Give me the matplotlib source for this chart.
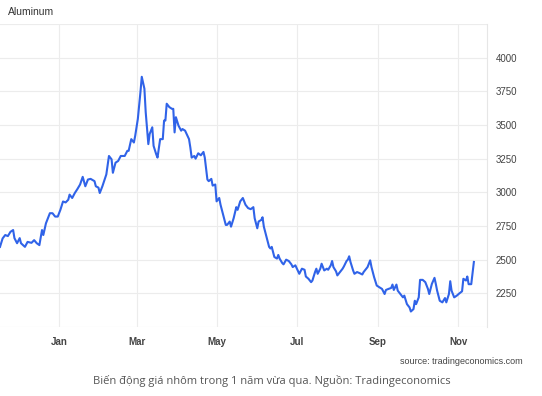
import pandas as pd
import matplotlib
matplotlib.use("Agg")
import matplotlib.pyplot as plt

# days counted from 1 Jan 2022, aluminium price (USD/t)
days = [-45, -43, -41, -39, -37, -35, -34, -32, -30, -29, -26, -24, -21, -19, -17, -15,
        -13, -12, -10, -7, -5, -3, -1, 1, 3, 5, 7, 8, 10, 12, 14, 16, 18, 20, 22, 24,
        27, 28, 30, 31, 33, 36, 38, 40, 41, 43, 45, 47, 50, 52, 53, 55, 57, 58, 60, 62,
        63, 65, 66, 68, 69, 71, 72, 74, 75, 77, 79, 80, 81, 82, 84, 86, 87, 88, 89, 91,
        93, 94, 96, 99, 100, 101, 103, 104, 106, 108, 110, 111, 113, 114, 116, 117, 119,
        120, 122, 123, 125, 127, 128, 130, 131, 133, 135, 136, 138, 140, 142, 144, 146,
        148, 149, 151, 152, 154, 155, 156, 158, 160, 161, 162, 164, 166, 167, 168, 170,
        171, 173, 175, 177, 178, 180, 182, 183, 185, 187, 188, 190, 192, 193, 195, 196,
        197, 199, 200, 202, 204, 205, 207, 208, 209, 211, 212, 214, 216, 217, 219, 220,
        221, 222, 224, 225, 227, 229, 231, 232, 234, 235, 237, 238, 240, 242, 244, 246,
        248, 249, 251, 253, 254, 255, 257, 258, 260, 262, 263, 265, 267, 268, 270, 271,
        272, 274, 275, 277, 279, 281, 282, 284, 286, 287, 288, 290, 292, 294, 295, 297,
        298, 299, 301, 303, 305, 307, 308, 310, 311, 312, 314, 316]
price = [2595, 2658, 2683, 2675, 2707, 2720, 2660, 2622, 2660, 2622, 2595, 2632, 2625, 2645, 2622, 2608,
         2720, 2683, 2770, 2845, 2845, 2820, 2820, 2870, 2932, 2925, 2945, 2983, 2958, 2995, 3025, 3058, 3115, 3045, 3095, 3100,
         3083, 3045, 3035, 2995, 3045, 3133, 3270, 3245, 3145, 3220, 3233, 3270, 3270, 3308, 3308, 3395, 3370, 3420, 3545, 3745,
         3858, 3770, 3595, 3358, 3433, 3483, 3345, 3283, 3258, 3395, 3395, 3533, 3533, 3658, 3633, 3620, 3620, 3445, 3558, 3495,
         3458, 3470, 3458, 3395, 3333, 3258, 3270, 3250, 3290, 3275, 3300, 3258, 3095, 3083, 3100, 3050, 3058,
         2933, 2958, 2908, 2833, 2758, 2758, 2783, 2745, 2808, 2890, 2870, 2933, 2958, 2908, 2883, 2875,
         2890, 2808, 2733, 2783, 2795, 2815, 2745, 2670, 2595, 2583, 2595, 2520, 2508, 2535, 2508, 2475,
         2465, 2500, 2490, 2465, 2445, 2458, 2415, 2395, 2433, 2425, 2375, 2358, 2333, 2345, 2408, 2433,
         2395, 2433, 2470, 2420, 2433, 2425, 2458, 2490, 2445, 2413, 2383, 2408, 2433, 2450, 2490, 2500,
         2525, 2483, 2420, 2395, 2408, 2400, 2390, 2408, 2433, 2445, 2495, 2445, 2370, 2308, 2295, 2283,
         2245, 2275, 2283, 2290, 2315, 2275, 2315, 2270, 2245, 2220, 2233, 2170, 2145, 2115, 2133, 2195,
         2170, 2220, 2350, 2350, 2333, 2283, 2245, 2320, 2365, 2320, 2270, 2195, 2183, 2215, 2183, 2245,
         2340, 2270, 2220, 2233, 2250, 2265, 2358, 2345, 2375, 2318, 2318, 2483]

y_ticks = [2000, 2250, 2500, 2750, 3000, 3250, 3500, 3750, 4000, 4250]
y_labels = ["", "2250", "2500", "2750", "3000", "3250", "3500", "3750", "4000", ""]
month_ticks = ["2022-01-01", "2022-03-01", "2022-05-01", "2022-07-01", "2022-09-01", "2022-11-01"]
month_labels = ["Jan", "Mar", "May", "Jul", "Sep", "Nov"]

dates = pd.Timestamp("2022-01-01") + pd.to_timedelta(days, unit="D")

plt.rcParams['font.family'] = ['Liberation Sans', 'DejaVu Sans']

fig = plt.figure(figsize=(5.42, 3.96), dpi=100)
ax = fig.add_axes([0, 1 - 327 / 396, 487 / 542, (327 - 24) / 396])

ax.plot(dates, price, color='#3063e8', lw=1.5, solid_joinstyle='round')

ax.set_xlim(pd.Timestamp("2021-11-17"), pd.Timestamp("2022-11-23"))
ax.set_ylim(2000, 4250)
ax.set_yticks(y_ticks)
ax.set_yticklabels(y_labels)
ax.yaxis.tick_right()
ax.set_xticks(pd.to_datetime(month_ticks))
ax.set_xticklabels(month_labels, fontweight='bold')
ax.tick_params(axis='both', length=0, labelsize=7, colors='#444444')
ax.tick_params(axis='y', pad=6)
ax.tick_params(axis='x', pad=7)
ax.grid(True, color='#ececec', lw=0.8)
for s in ['left', 'top', 'bottom']:
    ax.spines[s].set_visible(False)
ax.spines['right'].set_color('#e6e6e6')

fig.text(8 / 542, 1 - 12 / 396, "Aluminum", fontsize=7.5, color='#333333', va='center')
fig.text(523 / 542, 1 - 361 / 396, "source: tradingeconomics.com", fontsize=6.5,
         color='#444444', ha='right', va='center')
fig.text(272 / 542, 1 - 381 / 396, "Biến động giá nhôm trong 1 năm vừa qua. Nguồn: Tradingeconomics",
         fontsize=8, color='#555555', ha='center', va='center', family=['Open Sans', 'DejaVu Sans'])

fig.savefig("out.png", dpi=100)
